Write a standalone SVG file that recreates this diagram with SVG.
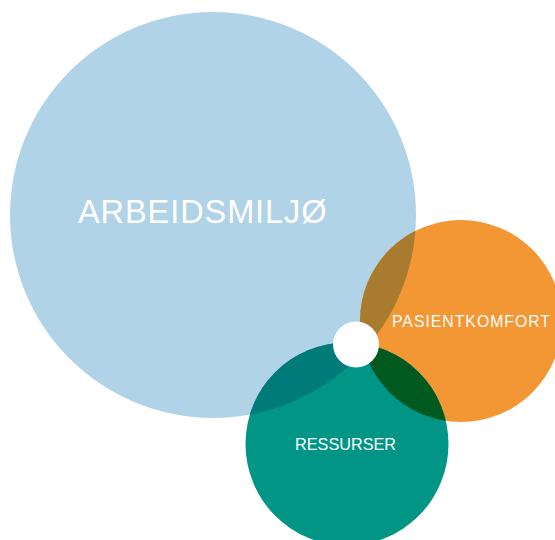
<svg xmlns="http://www.w3.org/2000/svg" width="555" height="540" viewBox="0 0 555 540">
  <style>
    .lbl { font-family: "Liberation Sans", Arial, sans-serif; fill: #ffffff; }
  </style>
  <defs>
    <clipPath id="clipBlue"><circle cx="213" cy="215" r="203"/></clipPath>
    <clipPath id="clipOrange"><circle cx="461" cy="321" r="101"/></clipPath>
    <clipPath id="clipTeal"><circle cx="347" cy="444" r="101.5"/></clipPath>
  </defs>
  <rect width="555" height="540" fill="#ffffff"/>
  <g id="arbeidsmiljo">
    <circle cx="213" cy="215" r="203" fill="#b1d3e8"/>
  </g>
  <g id="pasientkomfort">
    <circle cx="461" cy="321" r="101" fill="#f39634"/>
  </g>
  <g id="ressurser">
    <circle cx="347" cy="444" r="101.5" fill="#009585"/>
  </g>
  <g id="overlaps">
    <circle cx="461" cy="321" r="101" fill="#a97b2e" clip-path="url(#clipBlue)"/>
    <circle cx="347" cy="444" r="101.5" fill="#007b79" clip-path="url(#clipBlue)"/>
    <circle cx="347" cy="444" r="101.5" fill="#00591f" clip-path="url(#clipOrange)"/>
  </g>
  <g id="center">
    <circle cx="356" cy="344.5" r="23" fill="#ffffff"/>
  </g>
  <g id="labels">
    <text class="lbl" x="78" y="223.3" font-size="32.5" textLength="248.5" lengthAdjust="spacing">ARBEIDSMILJØ</text>
    <text class="lbl" x="392" y="327.3" font-size="15.8" textLength="158" lengthAdjust="spacing">PASIENTKOMFORT</text>
    <text class="lbl" x="295" y="450" font-size="16.2" textLength="101" lengthAdjust="spacing">RESSURSER</text>
  </g>
</svg>
